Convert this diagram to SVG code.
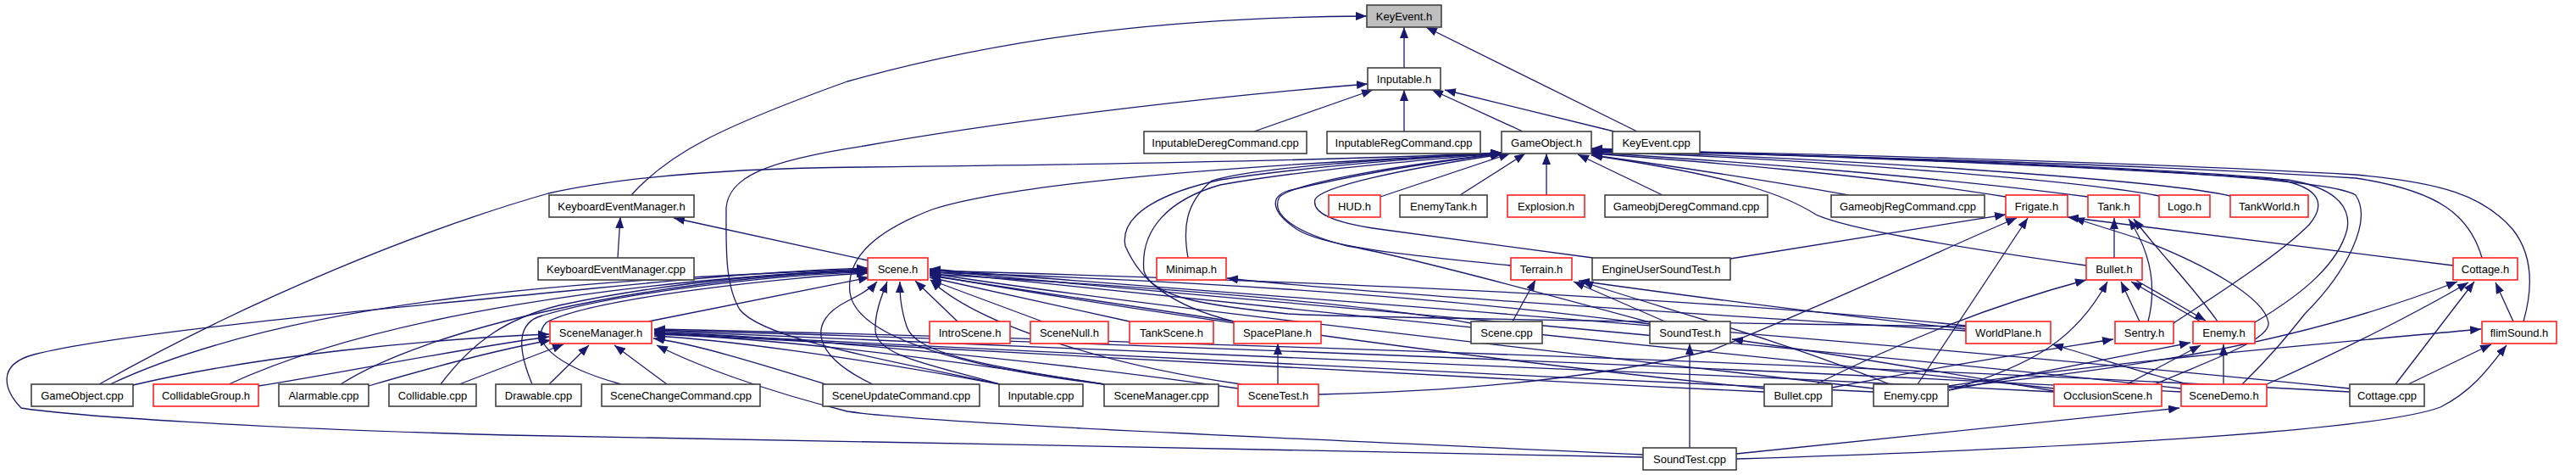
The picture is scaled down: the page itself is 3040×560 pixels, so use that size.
<svg xmlns="http://www.w3.org/2000/svg" width="3040" height="560" viewBox="0 0 3040 560">
<defs>
<style>
.n rect{fill:#fff;stroke:#404040;stroke-width:1.6}
.r rect{fill:#fff;stroke:#ff2020;stroke-width:1.6}
.g rect{fill:#bfbfbf;stroke:#404040;stroke-width:1.6}
text{font-family:"Liberation Sans",Arial,sans-serif;font-size:13px;fill:#000;text-anchor:middle}
.e path{fill:none;stroke:#191970;stroke-width:1.3;marker-end:url(#a)}
</style>
<marker id="a" markerWidth="13" markerHeight="10" refX="13" refY="5" orient="auto" markerUnits="userSpaceOnUse"><path d="M0,0 L13,5 L0,10 z" fill="#191970" stroke="none"/></marker>
</defs>
<rect width="3040" height="560" fill="#fff"/>
<g class="e" id="edges">
<path d="M1657,80 L1657,32"/>
<path d="M745,230 C790,180 850,150 1000,96 C1200,40 1400,20 1613,19"/>
<path d="M1932,155 L1683,32"/>
<path d="M1180,453 C1050,425 900,400 873,365 C855,335 857,290 857,245 C860,210 900,190 1020,172 C1200,140 1450,112 1614,99"/>
<path d="M1480,155 L1620,106"/>
<path d="M1657,155 L1657,106"/>
<path d="M1797,155 L1690,106"/>
<path d="M1905,155 L1705,106"/>
<path d="M1629,232 L1782,181"/>
<path d="M1723,230 L1800,181"/>
<path d="M1825,230 L1825,181"/>
<path d="M1962,230 L1862,182"/>
<path d="M2181,230 C2100,215 1950,192 1878,183"/>
<path d="M2367,232 C2200,205 2000,190 1878,181"/>
<path d="M2464,232 C2300,210 2050,190 1878,180"/>
<path d="M2548,231 C2450,212 2100,185 1878,179"/>
<path d="M2632,231 C2550,212 2150,185 1878,178"/>
<path d="M2929,304 C2915,255 2880,225 2780,210 C2500,192 2100,182 1878,178"/>
<path d="M2978,379 C2992,330 2985,295 2965,270 C2930,230 2880,215 2780,206 C2500,190 2100,180 1878,177"/>
<path d="M2565,381 C2620,345 2690,300 2725,265 C2750,235 2730,218 2680,210 C2450,192 2100,182 1878,176"/>
<path d="M2661,380 C2720,345 2760,310 2770,270 C2775,240 2750,220 2700,212 C2450,195 2100,182 1878,176"/>
<path d="M2646,453 C2680,420 2700,395 2720,370 C2770,320 2800,260 2780,230 C2750,210 2500,195 1878,175"/>
<path d="M1783,313 C1650,300 1560,290 1530,270 C1500,250 1498,232 1520,225 C1600,205 1700,190 1772,181"/>
<path d="M1880,304 L1627,270 C1570,262 1548,250 1552,235 C1560,220 1650,200 1772,182"/>
<path d="M1947,380 C1800,340 1650,300 1590,290 C1520,272 1500,250 1510,232 C1530,215 1650,195 1772,181"/>
<path d="M1402,304 C1396,270 1398,240 1430,213 C1480,197 1650,187 1772,180"/>
<path d="M1456,379 C1380,360 1345,330 1328,290 C1320,250 1380,225 1440,212 C1550,195 1700,185 1772,180"/>
<path d="M2320,385 C2000,380 1600,375 1520,370 C1420,360 1360,350 1350,320 C1345,270 1380,235 1440,218 C1550,198 1700,188 1772,180"/>
<path d="M117,453 C300,350 500,270 647,228 C750,205 900,198 1020,197 C1300,194 1600,188 1772,180"/>
<path d="M1303,453 C1150,435 1010,400 1003,345 C998,300 1040,270 1100,247 C1200,215 1450,195 1772,181"/>
<path d="M2462,313 C2300,290 2180,270 2143,253 C2110,232 2060,210 1878,183"/>
<path d="M729,304 L732,256"/>
<path d="M1024,307 L795,257"/>
<path d="M130,453 C350,350 700,330 1024,317"/>
<path d="M270,453 C450,370 750,330 1024,318"/>
<path d="M402,453 C500,390 750,330 1024,319"/>
<path d="M520,453 C560,400 600,375 660,360 C800,330 950,320 1024,320"/>
<path d="M628,453 C610,410 610,380 640,372 C750,340 950,322 1024,321"/>
<path d="M733,453 C650,430 625,400 645,380 C700,350 950,325 1024,322"/>
<path d="M765,379 L1026,327"/>
<path d="M1939,539 C1600,532 1000,520 600,513 C300,505 80,490 25,481 C5,460 -5,430 40,418 C150,390 500,360 700,340 C850,325 950,318 1024,316"/>
<path d="M157,454 C300,420 500,400 648,394"/>
<path d="M305,455 C400,440 550,410 648,397"/>
<path d="M435,455 C520,430 600,410 650,401"/>
<path d="M542,453 L665,406"/>
<path d="M648,453 L695,407"/>
<path d="M787,453 L725,407"/>
<path d="M1030,453 C960,420 950,380 1000,355 C1020,345 1030,338 1035,332"/>
<path d="M975,453 C900,430 820,405 771,399"/>
<path d="M1180,453 C1100,430 1035,420 1033,390 C1032,370 1040,350 1047,332"/>
<path d="M1180,453 C1000,420 850,400 772,396"/>
<path d="M1303,453 C1150,430 1080,415 1070,385 C1062,360 1062,345 1062,332"/>
<path d="M1303,453 C1100,420 900,398 772,394"/>
<path d="M1465,453 C1300,430 1150,380 1098,330"/>
<path d="M1461,458 C1200,420 900,395 772,392"/>
<path d="M1508,453 L1508,405"/>
<path d="M1130,379 L1080,331"/>
<path d="M1230,379 L1098,330"/>
<path d="M1333,379 L1097,327"/>
<path d="M1456,379 L1097,325"/>
<path d="M1736,381 C1600,355 1300,335 1097,323"/>
<path d="M1947,382 C1700,350 1400,330 1097,321"/>
<path d="M2320,384 C2000,350 1500,330 1097,319"/>
<path d="M2082,458 C1700,420 1300,360 1097,324"/>
<path d="M2082,462 C1600,440 1100,410 772,393"/>
<path d="M2211,458 C1800,410 1300,355 1097,322"/>
<path d="M2211,462 C1700,440 1100,405 772,392"/>
<path d="M2424,458 C1900,400 1300,345 1097,320"/>
<path d="M2424,462 C1800,430 1100,400 772,390"/>
<path d="M2574,458 C2000,395 1300,340 1097,318"/>
<path d="M2574,462 C1900,425 1100,398 772,389"/>
<path d="M2773,458 C2100,390 1300,335 1097,317"/>
<path d="M2773,462 C2000,420 1100,395 772,388"/>
<path d="M1939,536 C1600,520 1100,500 1000,485 C900,460 820,430 775,407"/>
<path d="M1994,528 L1994,405"/>
<path d="M2320,390 C2000,370 1600,345 1448,328"/>
<path d="M1785,379 L1812,330"/>
<path d="M1967,380 L1857,332"/>
<path d="M2320,388 C2150,370 2000,350 1863,331"/>
<path d="M2230,453 C2100,400 1950,360 1867,332"/>
<path d="M2042,305 L2367,253"/>
<path d="M1556,465 C1800,460 1950,430 2020,413 C2200,340 2300,290 2380,257"/>
<path d="M2263,453 L2393,257"/>
<path d="M2895,313 C2700,290 2550,270 2440,256"/>
<path d="M2543,453 C2620,420 2680,400 2677,380 C2672,350 2600,310 2520,280 L2447,257"/>
<path d="M2143,453 C2250,400 2350,360 2462,330"/>
<path d="M2300,460 C2400,430 2450,400 2487,332"/>
<path d="M2162,457 C2300,430 2400,415 2494,400"/>
<path d="M2495,304 L2495,257"/>
<path d="M2535,379 C2545,340 2540,300 2512,258"/>
<path d="M2617,379 C2590,340 2550,300 2518,258"/>
<path d="M2525,379 L2503,332"/>
<path d="M2597,379 L2515,332"/>
<path d="M2520,330 L2603,378"/>
<path d="M2300,460 C2400,440 2500,420 2585,404"/>
<path d="M2510,453 L2597,407"/>
<path d="M2624,453 L2624,406"/>
<path d="M2590,455 C2530,440 2470,420 2422,406"/>
<path d="M2424,461 C2300,440 2150,415 2044,400"/>
<path d="M2049,535 C2300,510 2500,490 2572,481"/>
<path d="M2827,453 L2920,332"/>
<path d="M2675,453 C2750,420 2850,370 2913,333"/>
<path d="M2300,457 C2500,435 2700,410 2900,332"/>
<path d="M2966,379 L2945,333"/>
<path d="M2842,453 L2940,406"/>
<path d="M2049,541 C2400,530 2800,510 2880,480 C2920,460 2940,430 2958,407"/>
<path d="M2300,455 C2500,425 2800,400 2928,388"/>
</g>
<g id="KeyEvent_h" class="g"><rect x="1613" y="6" width="88" height="26"/><text x="1657" y="23.5">KeyEvent.h</text></g>
<g id="Inputable_h" class="n"><rect x="1614" y="80" width="86" height="26"/><text x="1657" y="97.5">Inputable.h</text></g>
<g id="InputableDeregCommand_cpp" class="n"><rect x="1350" y="155" width="192" height="26"/><text x="1446" y="172.5">InputableDeregCommand.cpp</text></g>
<g id="InputableRegCommand_cpp" class="n"><rect x="1566" y="155" width="181" height="26"/><text x="1656.5" y="172.5">InputableRegCommand.cpp</text></g>
<g id="GameObject_h" class="n"><rect x="1772" y="155" width="106" height="26"/><text x="1825" y="172.5">GameObject.h</text></g>
<g id="KeyEvent_cpp" class="n"><rect x="1903" y="155" width="103" height="26"/><text x="1954.5" y="172.5">KeyEvent.cpp</text></g>
<g id="KeyboardEventManager_h" class="n"><rect x="648" y="230" width="171" height="26"/><text x="733.5" y="247.5">KeyboardEventManager.h</text></g>
<g id="HUD_h" class="r"><rect x="1568" y="230" width="61" height="26"/><text x="1598.5" y="247.5">HUD.h</text></g>
<g id="EnemyTank_h" class="n"><rect x="1652" y="230" width="103" height="26"/><text x="1703.5" y="247.5">EnemyTank.h</text></g>
<g id="Explosion_h" class="r"><rect x="1779" y="230" width="91" height="26"/><text x="1824.5" y="247.5">Explosion.h</text></g>
<g id="GameobjDeregCommand_cpp" class="n"><rect x="1894" y="230" width="192" height="26"/><text x="1990" y="247.5">GameobjDeregCommand.cpp</text></g>
<g id="GameobjRegCommand_cpp" class="n"><rect x="2161" y="230" width="181" height="26"/><text x="2251.5" y="247.5">GameobjRegCommand.cpp</text></g>
<g id="Frigate_h" class="r"><rect x="2367" y="230" width="73" height="26"/><text x="2403.5" y="247.5">Frigate.h</text></g>
<g id="Tank_h" class="r"><rect x="2464" y="230" width="61" height="26"/><text x="2494.5" y="247.5">Tank.h</text></g>
<g id="Logo_h" class="r"><rect x="2548" y="230" width="60" height="26"/><text x="2578" y="247.5">Logo.h</text></g>
<g id="TankWorld_h" class="r"><rect x="2632" y="230" width="92" height="26"/><text x="2678" y="247.5">TankWorld.h</text></g>
<g id="KeyboardEventManager_cpp" class="n"><rect x="635" y="304" width="184" height="26"/><text x="727" y="321.5">KeyboardEventManager.cpp</text></g>
<g id="Scene_h" class="r"><rect x="1024" y="304" width="71" height="26"/><text x="1059.5" y="321.5">Scene.h</text></g>
<g id="Minimap_h" class="r"><rect x="1365" y="304" width="82" height="26"/><text x="1406" y="321.5">Minimap.h</text></g>
<g id="Terrain_h" class="r"><rect x="1783" y="304" width="72" height="26"/><text x="1819" y="321.5">Terrain.h</text></g>
<g id="EngineUserSoundTest_h" class="n"><rect x="1879" y="304" width="163" height="26"/><text x="1960.5" y="321.5">EngineUserSoundTest.h</text></g>
<g id="Bullet_h" class="r"><rect x="2462" y="304" width="66" height="26"/><text x="2495" y="321.5">Bullet.h</text></g>
<g id="Cottage_h" class="r"><rect x="2895" y="304" width="76" height="26"/><text x="2933" y="321.5">Cottage.h</text></g>
<g id="SceneManager_h" class="r"><rect x="649" y="379" width="120" height="26"/><text x="709" y="396.5">SceneManager.h</text></g>
<g id="IntroScene_h" class="r"><rect x="1097" y="379" width="95" height="26"/><text x="1144.5" y="396.5">IntroScene.h</text></g>
<g id="SceneNull_h" class="r"><rect x="1216" y="379" width="92" height="26"/><text x="1262" y="396.5">SceneNull.h</text></g>
<g id="TankScene_h" class="r"><rect x="1333" y="379" width="99" height="26"/><text x="1382.5" y="396.5">TankScene.h</text></g>
<g id="SpacePlane_h" class="r"><rect x="1456" y="379" width="103" height="26"/><text x="1507.5" y="396.5">SpacePlane.h</text></g>
<g id="Scene_cpp" class="n"><rect x="1736" y="379" width="84" height="26"/><text x="1778" y="396.5">Scene.cpp</text></g>
<g id="SoundTest_h" class="n"><rect x="1947" y="379" width="95" height="26"/><text x="1994.5" y="396.5">SoundTest.h</text></g>
<g id="WorldPlane_h" class="r"><rect x="2320" y="379" width="100" height="26"/><text x="2370" y="396.5">WorldPlane.h</text></g>
<g id="Sentry_h" class="r"><rect x="2496" y="379" width="69" height="26"/><text x="2530.5" y="396.5">Sentry.h</text></g>
<g id="Enemy_h" class="r"><rect x="2588" y="379" width="73" height="26"/><text x="2624.5" y="396.5">Enemy.h</text></g>
<g id="flimSound_h" class="r"><rect x="2929" y="379" width="88" height="26"/><text x="2973" y="396.5">flimSound.h</text></g>
<g id="GameObject_cpp" class="n"><rect x="37" y="453" width="120" height="26"/><text x="97" y="470.5">GameObject.cpp</text></g>
<g id="CollidableGroup_h" class="r"><rect x="181" y="453" width="124" height="26"/><text x="243" y="470.5">CollidableGroup.h</text></g>
<g id="Alarmable_cpp" class="n"><rect x="329" y="453" width="106" height="26"/><text x="382" y="470.5">Alarmable.cpp</text></g>
<g id="Collidable_cpp" class="n"><rect x="459" y="453" width="103" height="26"/><text x="510.5" y="470.5">Collidable.cpp</text></g>
<g id="Drawable_cpp" class="n"><rect x="585" y="453" width="101" height="26"/><text x="635.5" y="470.5">Drawable.cpp</text></g>
<g id="SceneChangeCommand_cpp" class="n"><rect x="710" y="453" width="187" height="26"/><text x="803.5" y="470.5">SceneChangeCommand.cpp</text></g>
<g id="SceneUpdateCommand_cpp" class="n"><rect x="971" y="453" width="185" height="26"/><text x="1063.5" y="470.5">SceneUpdateCommand.cpp</text></g>
<g id="Inputable_cpp" class="n"><rect x="1179" y="453" width="99" height="26"/><text x="1228.5" y="470.5">Inputable.cpp</text></g>
<g id="SceneManager_cpp" class="n"><rect x="1303" y="453" width="135" height="26"/><text x="1370.5" y="470.5">SceneManager.cpp</text></g>
<g id="SceneTest_h" class="r"><rect x="1461" y="453" width="95" height="26"/><text x="1508.5" y="470.5">SceneTest.h</text></g>
<g id="Bullet_cpp" class="n"><rect x="2082" y="453" width="80" height="26"/><text x="2122" y="470.5">Bullet.cpp</text></g>
<g id="Enemy_cpp" class="n"><rect x="2211" y="453" width="88" height="26"/><text x="2255" y="470.5">Enemy.cpp</text></g>
<g id="OcclusionScene_h" class="r"><rect x="2424" y="453" width="127" height="26"/><text x="2487.5" y="470.5">OcclusionScene.h</text></g>
<g id="SceneDemo_h" class="r"><rect x="2574" y="453" width="101" height="26"/><text x="2624.5" y="470.5">SceneDemo.h</text></g>
<g id="Cottage_cpp" class="n"><rect x="2773" y="453" width="88" height="26"/><text x="2817" y="470.5">Cottage.cpp</text></g>
<g id="SoundTest_cpp" class="n"><rect x="1939" y="528" width="110" height="26"/><text x="1994" y="545.5">SoundTest.cpp</text></g>
</svg>
